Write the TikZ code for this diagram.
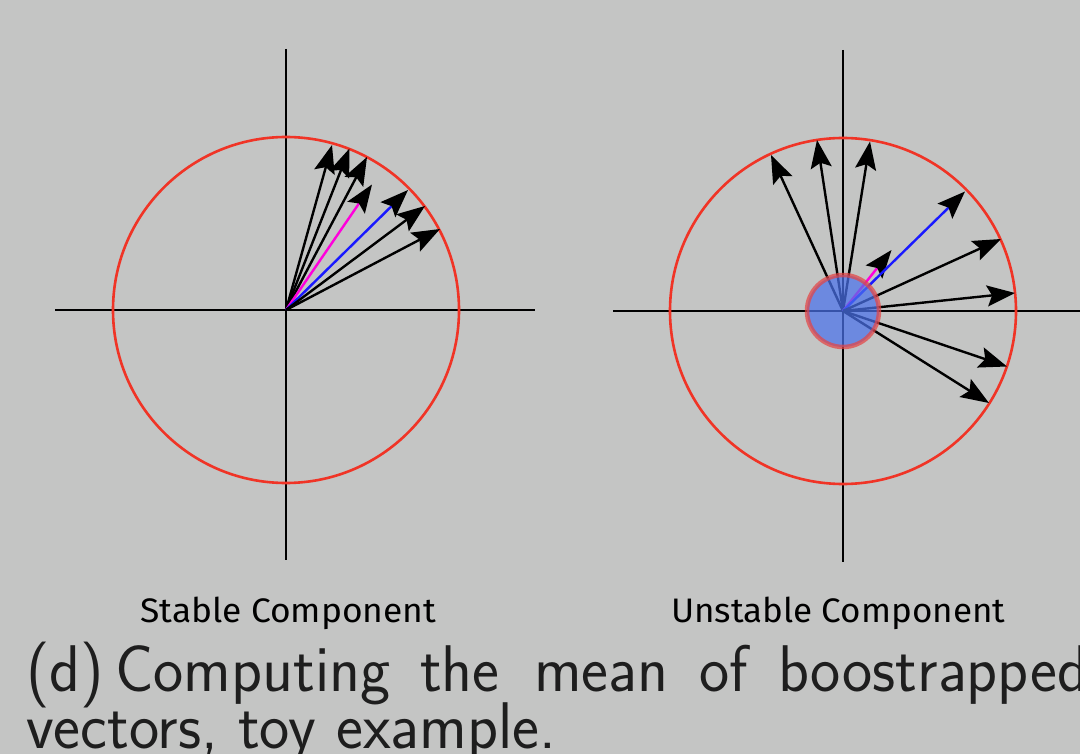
\documentclass[tikz,border=0pt]{standalone}
\usepackage{fontspec}
\usepackage{graphicx}
\newfontfamily\labelfont{Fira Sans}
\usetikzlibrary{arrows.meta}
\definecolor{bgcol}{RGB}{196,197,196}
\definecolor{ringred}{RGB}{240,52,38}
\definecolor{vecmag}{RGB}{255,0,220}
\definecolor{vecblue}{RGB}{25,25,255}
\definecolor{discfill}{RGB}{75,114,235}
\definecolor{discedge}{RGB}{228,68,68}
\definecolor{captxt}{RGB}{30,30,30}
\tikzset{
  axisline/.style={line width=2.2pt, black},
  ring/.style={line width=2.6pt, ringred},
  vec/.style={line width=2.4pt, black, -{Stealth[length=28pt,width=21pt,inset=5pt,color=black]}},
  magvec/.style={vec, vecmag},
  bluevec/.style={vec, vecblue},
  caption/.style={anchor=base west, inner sep=0pt, text=captxt, font=\sffamily\fontsize{66}{79}\selectfont},
  complabel/.style={anchor=base west, inner sep=0pt, text=black},
}
\begin{document}
\begin{tikzpicture}[x=1pt,y=-1pt]
\fill[bgcol] (0,0) rectangle (1080,754);
\useasboundingbox (0,0) rectangle (1080,754);
\clip (0,0) rectangle (1080,754);

% ---------- left: stable component ----------
\coordinate (O1) at (286,310);
\coordinate (L1top) at (286,49);
\coordinate (L1bot) at (286,560);
\coordinate (L1left) at (55,310);
\coordinate (L1right) at (535,310);
\draw[axisline] (L1top) -- (L1bot);
\draw[axisline] (L1left) -- (L1right);
\draw[ring] (O1) circle[radius=173];

\coordinate (s1) at (332,145);
\coordinate (s2) at (349.5,148.5);
\coordinate (s3) at (367,157);
\coordinate (sm) at (372,184.5);
\coordinate (sb) at (408,190);
\coordinate (s6) at (425,206);
\coordinate (s7) at (440,229);
\draw[vec] (O1) -- (s1);
\draw[vec] (O1) -- (s2);
\draw[vec] (O1) -- (s3);
\draw[magvec] (O1) -- (sm);
\draw[bluevec] (O1) -- (sb);
\draw[vec] (O1) -- (s6);
\draw[vec] (O1) -- (s7);

% ---------- right: unstable component ----------
\coordinate (O2) at (843,311);
\coordinate (R1top) at (843,50);
\coordinate (R1bot) at (843,562);
\coordinate (R1left) at (613,311);
\coordinate (R1right) at (1085,311);
\draw[axisline] (R1top) -- (R1bot);
\draw[axisline] (R1left) -- (R1right);
\draw[ring] (O2) circle[radius=173];

\coordinate (u1) at (771,155);
\coordinate (u2) at (817,140);
\coordinate (u3) at (870,141.5);
\coordinate (um) at (891.5,250);
\coordinate (ub) at (965,191.5);
\coordinate (u6) at (1001,239);
\coordinate (u7) at (1015,293);
\coordinate (u8) at (1007,366.5);
\coordinate (u9) at (989,403);
\draw[vec] (O2) -- (u1);
\draw[vec] (O2) -- (u2);
\draw[vec] (O2) -- (u3);
\draw[magvec] (O2) -- (um);
\draw[bluevec] (O2) -- (ub);
\draw[vec] (O2) -- (u6);
\draw[vec] (O2) -- (u7);
\draw[vec] (O2) -- (u8);
\draw[vec] (O2) -- (u9);

\fill[discfill, fill opacity=0.72, draw=discedge, draw opacity=0.72, line width=4.5pt] (O2) circle[radius=36];

% ---------- labels ----------
\node[complabel] (lstable) at (140,622) {\resizebox{296pt}{\height}{\labelfont\fontsize{34}{40}\selectfont Stable Component}};
\node[complabel] (lunstable) at (671,622) {\resizebox{334pt}{\height}{\labelfont\fontsize{34}{40}\selectfont Unstable Component}};

% ---------- caption ----------
\node[caption] (cd) at (26,691) {\scalebox{0.97}[1]{(d)}};
\node[caption] (c1) at (115,691) {\scalebox{0.97}[1]{Computing}};
\node[caption] (c2) at (420,691) {\scalebox{0.97}[1]{the}};
\node[caption] (c3) at (534,691) {\scalebox{0.97}[1]{mean}};
\node[caption] (c4) at (699,691) {\scalebox{0.97}[1]{of}};
\node[caption] (c5) at (778,691) {\scalebox{0.97}[1]{boostrapped}};
\node[caption] (c6) at (26,748) {\resizebox{530pt}{\height}{vectors, toy example.}};
\end{tikzpicture}
\end{document}
